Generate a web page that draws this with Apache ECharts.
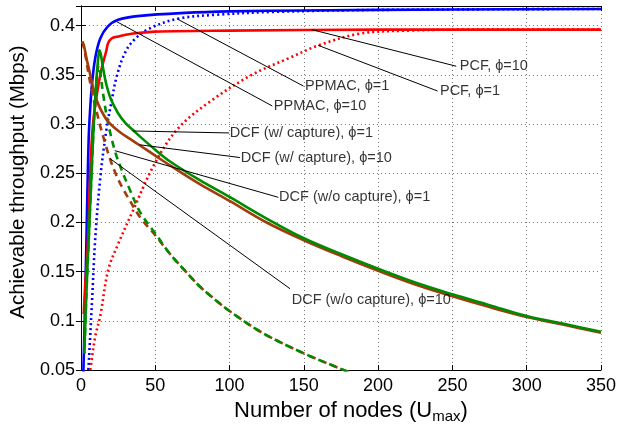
<!DOCTYPE html>
<html>
<head>
<meta charset="utf-8">
<script src="https://cdn.jsdelivr.net/npm/echarts@6/dist/echarts.min.js"></script>
<style>
  html, body { margin: 0; padding: 0; background: #fff; }
  #chart { width: 619px; height: 429px; }
</style>
</head>
<body>
<div id="chart"></div>
<script>
// [nodes, throughput]
var ppmac10 = [[1.5,0.04],[2.5,0.1],[3.6,0.175],[4.4,0.235],[5.2,0.285],[6,0.31],[7.4,0.34],[9.6,0.367],[13,0.387],[18,0.399],[25,0.406],[40,0.41],[70,0.413],[100,0.4145],[150,0.4155],[250,0.4165],[350,0.417]];
var ppmac1 = [[4.5,0.04],[5,0.05],[7.4,0.118],[9.6,0.183],[13,0.245],[17,0.293],[20.6,0.323],[24,0.348],[29.5,0.372],[36,0.386],[46,0.397],[65,0.407],[90,0.411],[130,0.414],[200,0.416],[350,0.417]];
var pcf10 = [[1.9,0.107],[3,0.14],[4,0.16],[4.5,0.175],[5.5,0.215],[6.3,0.255],[7.4,0.286],[8.5,0.306],[10,0.323],[11.8,0.34],[14,0.357],[17,0.374],[18.2,0.382],[20.6,0.387],[25,0.389],[35,0.392],[50,0.394],[100,0.395],[200,0.396],[350,0.396]];
var pcf1 = [[5.5,0.04],[6.3,0.05],[9.6,0.084],[13,0.105],[18.4,0.152],[25,0.178],[35,0.212],[49,0.258],[65,0.295],[87,0.323],[115,0.35],[140,0.367],[160,0.38],[188,0.392],[220,0.395],[260,0.396],[350,0.396]];
var dcfCap1 = [[2.3,0.067],[3,0.1],[4,0.14],[5,0.175],[6,0.21],[7,0.245],[8,0.28],[9,0.31],[10,0.335],[11,0.357],[12,0.372],[12.5,0.375],[13.5,0.37],[15,0.356],[17,0.341],[20,0.326],[25,0.311],[30,0.301],[35,0.294],[40,0.287],[50,0.274],[60,0.262],[80,0.243],[100,0.226],[125,0.204],[150,0.184],[175,0.168],[200,0.153],[225,0.139],[250,0.127],[275,0.116],[300,0.105],[325,0.097],[350,0.089]];
var dcfCap10 = [[1,0.384],[2,0.38],[4,0.365],[6,0.352],[8,0.338],[10,0.327],[12,0.319],[15,0.31],[18,0.303],[22,0.297],[27,0.291],[33,0.285],[40,0.278],[50,0.268],[60,0.258],[80,0.239],[100,0.222],[125,0.2],[150,0.182],[175,0.166],[200,0.151],[225,0.137],[250,0.125],[275,0.114],[300,0.104],[325,0.096],[350,0.088]];
var dcfNoCap1 = [[2.3,0.067],[3,0.1],[4,0.14],[5,0.175],[6,0.21],[7,0.245],[8,0.28],[9,0.31],[10,0.335],[11,0.352],[12,0.36],[13,0.352],[15,0.33],[18,0.303],[22.8,0.273],[27,0.255],[33,0.233],[40,0.21],[50,0.189],[60,0.168],[70,0.151],[80,0.135],[90,0.122],[100,0.11],[122,0.088],[150,0.067],[177,0.05],[185,0.045]];
var dcfNoCap10 = [[1,0.384],[3,0.37],[5,0.352],[7,0.336],[9,0.322],[11,0.31],[13,0.298],[16,0.282],[19.5,0.265],[23,0.251],[27,0.238],[33,0.222],[40,0.205],[50,0.187],[60,0.168],[70,0.151],[80,0.135],[90,0.122],[100,0.11],[122,0.088],[150,0.067],[177,0.05],[185,0.045]];

var xTicks = [0, 350, 50];
var yTicks = [0.05, 0.42, 0.05];

// annotations: text, arrow start (on curve), arrow end, text anchor (left-middle)
var noteText = ['PCF, ϕ=10', 'PCF, ϕ=1', 'PPMAC, ϕ=1', 'PPMAC, ϕ=10',
  'DCF (w/ capture), ϕ=1', 'DCF (w/ capture), ϕ=10', 'DCF (w/o capture), ϕ=1', 'DCF (w/o capture), ϕ=10'];
var noteFrom = [[155.3,0.396],[159.7,0.380],[64.6,0.407],[24.2,0.404],[34.8,0.293],[39.4,0.279],[22.8,0.273],[19.5,0.265]];
var noteTo = [[252.6,0.3588],[240,0.3336],[149.8,0.3386],[128.8,0.3184],[99.7,0.291],[107,0.266],[132.8,0.2256],[140.7,0.1327]];
var noteAt = [[254.6,0.3588],[241.3,0.3336],[150.5,0.3386],[129.5,0.3184],[99.9,0.291],[107.2,0.266],[133,0.2256],[141.5,0.1216]];

var FONT = '"Liberation Sans", Arial, Helvetica, sans-serif';

function curve(data, color, dash, offset, z) {
  return {
    type: 'line', data: data, showSymbol: false, symbol: 'none',
    smooth: 0.35, silent: true, z: z,
    lineStyle: { color: color, width: 2.6, type: dash, dashOffset: offset || 0 }
  };
}

var series = [
  curve(ppmac1, '#0000ff', [2, 3], 0, 2),
  curve(pcf1, '#ff0000', [2, 3], 0, 2),
  curve(ppmac10, '#0000ff', 'solid', 0, 3),
  curve(pcf10, '#ff0000', 'solid', 0, 3),
  curve(dcfNoCap10, '#a33c0c', [7, 5], 0, 4),
  curve(dcfNoCap1, '#008c00', [7, 5], 6, 4),
  curve(dcfCap10, '#a33c0c', 'solid', 0, 5),
  curve(dcfCap1, '#008c00', 'solid', 0, 5)
];

noteText.forEach(function (t, i) {
  series.push({
    type: 'line', data: [noteFrom[i], noteTo[i]], showSymbol: false, symbol: 'none',
    silent: true, z: 6, lineStyle: { color: '#000', width: 1 }
  });
});

series.push({
  type: 'scatter', symbolSize: 1, silent: true, z: 7,
  itemStyle: { color: 'rgba(0,0,0,0)' },
  data: noteText.map(function (t, i) { return { name: t, value: noteAt[i] }; }),
  label: {
    show: true, position: 'right', distance: 0, formatter: '{b}',
    color: '#000', fontSize: 14.5, fontFamily: FONT
  }
});

var chart = echarts.init(document.getElementById('chart'));
chart.setOption({
  backgroundColor: '#fff',
  animation: false,
  grid: { left: 75.5, right: 15, top: 6, bottom: 55 },
  xAxis: [{
    type: 'value', min: xTicks[0], max: xTicks[1], interval: xTicks[2],
    name: 'Number of nodes (U{s|max})', nameLocation: 'middle', nameGap: 25,
    nameTextStyle: {
      fontSize: 22, fontFamily: FONT, color: '#000', padding: [0, 0, 0, 20],
      rich: { s: { fontSize: 15, fontFamily: FONT, color: '#000', padding: [11, 0, 0, 0] } }
    },
    axisLine: { lineStyle: { color: '#000', width: 1 } },
    axisTick: { inside: true, length: 5, lineStyle: { color: '#000' } },
    axisLabel: { fontSize: 18, fontFamily: FONT, color: '#000', margin: 7 },
    splitLine: { show: true, lineStyle: { color: '#777', type: [1, 3], width: 1 } }
  }, {
    type: 'value', position: 'top', min: xTicks[0], max: xTicks[1], interval: xTicks[2],
    axisLine: { show: true, lineStyle: { color: '#000', width: 1 } },
    axisTick: { inside: true, length: 5, lineStyle: { color: '#000' } },
    axisLabel: { show: false }, splitLine: { show: false }
  }],
  yAxis: [{
    type: 'value', min: yTicks[0], max: yTicks[1], interval: yTicks[2],
    name: 'Achievable throughput (Mbps)', nameLocation: 'middle', nameGap: 48,
    nameTextStyle: { fontSize: 20.5, fontFamily: FONT, color: '#000', padding: [0, 0, 0, 12] },
    axisLine: { show: true, lineStyle: { color: '#000', width: 1 } },
    axisTick: { inside: true, length: 5, lineStyle: { color: '#000' } },
    axisLabel: {
      fontSize: 18, fontFamily: FONT, color: '#000', margin: 6, showMaxLabel: false,
      formatter: function (v) { return String(+v.toFixed(2)); }
    },
    splitLine: { show: true, lineStyle: { color: '#777', type: [1, 3], width: 1 } }
  }, {
    type: 'value', position: 'right', min: yTicks[0], max: yTicks[1], interval: yTicks[2],
    axisLine: { show: true, lineStyle: { color: '#000', width: 1 } },
    axisTick: { inside: true, length: 5, lineStyle: { color: '#000' } },
    axisLabel: { show: false }, splitLine: { show: false }
  }],
  series: series
});
</script>
</body>
</html>
